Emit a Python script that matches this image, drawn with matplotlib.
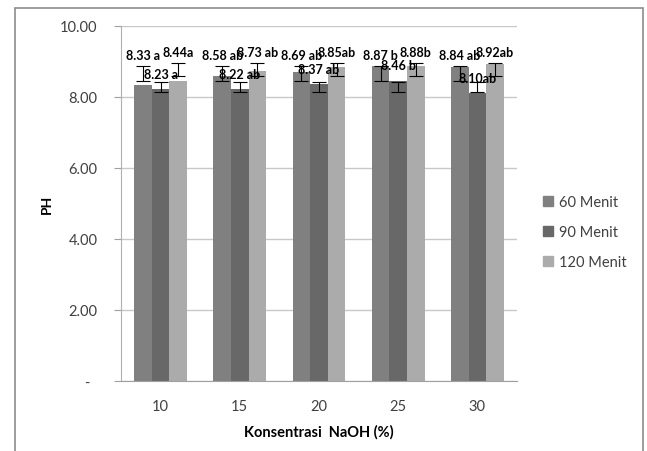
import matplotlib
matplotlib.use('Agg')
import matplotlib.pyplot as plt
import matplotlib.patches as mpatches
import numpy as np

plt.rcParams['font.family'] = ['Lato', 'DejaVu Sans']

# ── data ─────────────────────────────────────────────────────────────────────
categories = ['10', '15', '20', '25', '30']
series_names = ['60 Menit', '90 Menit', '120 Menit']
ph_60 = [8.33, 8.58, 8.69, 8.87, 8.84]
ph_90 = [8.23, 8.22, 8.37, 8.46, 8.10]
ph_120 = [8.44, 8.73, 8.85, 8.88, 8.92]
labels_60 = ['8.33 a', '8.58 ab', '8.69 ab', '8.87 b', '8.84 ab']
labels_90 = ['8.23 a', '8.22 ab', '8.37 ab', '8.46 b', '8.10ab']
labels_120 = ['8.44a', '8.73 ab', '8.85ab', '8.88b', '8.92ab']
# error bars as drawn in the source (low / high ends)
err_low = [8.44, 8.13, 8.58]
err_high = [8.88, 8.43, 8.97]
yticks = [0, 2, 4, 6, 8, 10]
ytick_labels = ['-  ', '2.00', '4.00', '6.00', '8.00', '10.00']

colors = ['#808080', '#686868', '#ababab']
values = [ph_60, ph_90, ph_120]
texts = [labels_60, labels_90, labels_120]

# ── figure ───────────────────────────────────────────────────────────────────
fig = plt.figure(figsize=(6.47, 4.52), dpi=100)
fig.patch.set_facecolor('white')
ax = fig.add_axes([121/647, 1 - 381.7/452, (517-121)/647, (381.7-27)/452])

x = np.arange(len(categories))
w = 1 / 4.5

for k, (vals, col) in enumerate(zip(values, colors)):
    xs = x + (k - 1) * w
    ax.bar(xs, vals, width=w, color=col, zorder=2, label=series_names[k])
    lo = np.full(len(xs), err_low[k])
    hi = np.full(len(xs), err_high[k])
    mid = (lo + hi) / 2
    ax.errorbar(xs, mid, yerr=(hi - lo) / 2, fmt='none', ecolor='black',
                elinewidth=0.8, capsize=5, capthick=0.8, zorder=3)
    for xi, v, t in zip(xs, vals, texts[k]):
        if k == 1:
            base, off = v, 11
        else:
            base, off = err_high[k], 8 if k == 0 else 7.5
        ax.annotate(t, (xi, base), textcoords='offset points', xytext=(0, off),
                    ha='center', va='center', fontsize=9, fontweight='bold',
                    color='black', zorder=4)

ax.set_xlim(-0.5, len(categories) - 0.5)
ax.set_ylim(0, 10)
ax.set_yticks(yticks)
ax.set_yticklabels(ytick_labels, fontsize=10.5, color='#404040')
ax.set_xticks(x)
ax.set_xticklabels(categories, fontsize=10.5, color='#404040')
ax.tick_params(axis='y', length=5, color='#a0a0a0', pad=12)
ax.tick_params(axis='x', length=0, pad=13)
ax.grid(axis='y', color='#c8c8c8', linewidth=1, zorder=0)
ax.set_axisbelow(True)
for s in ['top', 'right']:
    ax.spines[s].set_visible(False)
ax.spines['left'].set_color('#b0b0b0')
ax.spines['bottom'].set_color('#a0a0a0')

ax.set_xlabel('Konsentrasi  NaOH (%)', fontsize=10.5, fontweight='bold', labelpad=8)
ax.set_ylabel('PH', fontsize=10, fontweight='bold', labelpad=5)

handles = [mpatches.Patch(color=c) for c in colors]
fig.legend(handles, series_names, loc='center left', bbox_to_anchor=(530/647, 1 - 233/452),
           frameon=False, fontsize=10.5, handlelength=0.7, handleheight=0.7,
           handletextpad=0.4, labelspacing=1.1, labelcolor='#404040')

# outer chart border
fig.patches.append(mpatches.Rectangle((15/647, -0.05), (643-15)/647, 1.05 - 9/452,
                                      transform=fig.transFigure, fill=False,
                                      edgecolor='#8c8c8c', linewidth=1.2))

fig.savefig('out.png', dpi=100, facecolor='white')
